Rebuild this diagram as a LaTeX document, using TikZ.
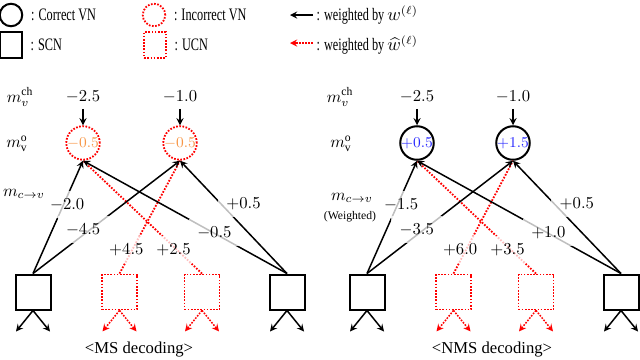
\documentclass[tikz,border=0pt]{standalone}
\usepackage{fontspec}
\setmainfont{Liberation Serif}
\newfontfamily\keyfont{Liberation Serif}[FakeStretch=0.7]
\usetikzlibrary{shapes,arrows,positioning}
\usepackage{amsmath,amssymb}
\definecolor{vnorange}{RGB}{247,150,70}
\definecolor{vnblue}{RGB}{40,40,255}

\begin{document}
\begin{tikzpicture}[x=0.6pt, y=-0.6pt,
  vn/.style={circle, minimum size=20pt, inner sep=0pt, font=\fontsize{9.5}{10}\selectfont},
  correct/.style={draw, line width=1.2pt},
  incorrect/.style={draw=red, line width=1.1pt, dash pattern=on 1pt off 0.9pt},
  scn/.style={rectangle, draw, line width=1.2pt, minimum size=21pt, inner sep=0pt},
  ucn/.style={rectangle, draw=red, line width=1.1pt, dash pattern=on 1pt off 0.9pt, minimum size=21pt, inner sep=0pt},
  arrow/.style={line width=0.9pt,->,>=stealth},
  redline/.style={red, line width=1.1pt, dash pattern=on 1pt off 0.9pt},
  redarrow/.style={red, line width=0.9pt, dash pattern=on 1pt off 0.8pt,->,>=stealth},
  elabel/.style={fill=white, fill opacity=0.75, text opacity=1, text=black, inner xsep=5pt, inner ysep=4.5pt},
  keytext/.style={font=\keyfont\fontsize{10.5}{12}\selectfont, inner sep=2pt}]

  \useasboundingbox (0,0) rectangle (640,359);

  % legend
  \node[circle, correct, minimum size=13.5pt, inner sep=0pt] (keyvn) at (11,15) {};
  \node[keytext, right=2.5pt of keyvn] (keyvntext) {: Correct VN};
  \node[rectangle, correct, minimum width=13pt, minimum height=15.5pt] (keyscn) at (11,45) {};
  \node[keytext, right=2.5pt of keyscn] (keyscntext) {: SCN};
  \node[circle, incorrect, minimum size=13.5pt, inner sep=0pt] (keyivn) at (154,15) {};
  \node[keytext, right=2.5pt of keyivn] (keyivntext) {: Incorrect VN};
  \node[rectangle, incorrect, minimum width=13pt, minimum height=15.5pt] (keyucn) at (155,45) {};
  \node[keytext, right=2.5pt of keyucn] (keyucntext) {: UCN};
  \node[keytext, anchor=west] (keyw) at (313,15) {: weighted by $w^{(\ell)}$};
  \node[keytext, anchor=west] (keywhat) at (313,45) {: weighted by $\widehat{w}^{(\ell)}$};
  \coordinate (keywend) at (290,15);
  \coordinate (keywhatend) at (290,43);
  \draw[arrow] (keyw.west) -- (keywend);
  \draw[redarrow] (keywhat.west) ++(0,-2) -- (keywhatend);

  % MS decoding
  \node (ch1L) at (83,97) {$-2.5$};
  \node (ch2L) at (180,97) {$-1.0$};
  \node[vn, incorrect] (vn1L) at (83,143) {\textcolor{vnorange}{$-0.5$}};
  \node[vn, incorrect] (vn2L) at (180,143) {\textcolor{vnorange}{$-0.5$}};
  \draw[arrow] (ch1L) -- (vn1L);
  \draw[arrow] (ch2L) -- (vn2L);

  \node[scn] (scn1L) at (33,292) {};
  \node[ucn] (ucn1L) at (119.5,292) {};
  \node[ucn] (ucn2L) at (202,292) {};
  \node[scn] (scn2L) at (287,292) {};

  \draw[redline] (ucn1L.north) -- node[elabel, pos=0.21, xshift=-3.5pt] {$+4.5$} (vn2L.south);
  \draw[redline] (ucn2L.north) -- node[elabel, pos=0.21, xshift=-2.1pt] {$+2.5$} (vn1L.south);
  \draw[arrow] (scn1L.north) -- node[elabel, pos=0.61, xshift=2.2pt] {$-2.0$} (vn1L.south);
  \draw[arrow] (scn1L.north) -- node[elabel, pos=0.39, xshift=-4.3pt] {$-4.5$} (vn2L.south);
  \draw[arrow] (scn2L.north) -- node[elabel, pos=0.36, xshift=0.5pt] {$-0.5$} (vn1L.south);
  \draw[arrow] (scn2L.north) -- node[elabel, pos=0.62, xshift=13.7pt] {$+0.5$} (vn2L.south);

  \node (rowchL) at (20,97) {$m_v^{\mathrm{ch}}$};
  \node (rowoL) at (17,144) {$m_{\mathrm{v}}^{\mathrm{o}}$};
  \node (rowcvL) at (24,194) {$m_{c\to v}$};

  \node (titleL) at (139,350) {<MS decoding>};

  % NMS decoding
  \node (ch1R) at (417,97) {$-2.5$};
  \node (ch2R) at (513,97) {$-1.0$};
  \node[vn, correct] (vn1R) at (417,143) {\textcolor{vnblue}{$+0.5$}};
  \node[vn, correct] (vn2R) at (513,143) {\textcolor{vnblue}{$+1.5$}};
  \draw[arrow] (ch1R) -- (vn1R);
  \draw[arrow] (ch2R) -- (vn2R);

  \node[scn] (scn1R) at (367,292) {};
  \node[ucn] (ucn1R) at (453.5,292) {};
  \node[ucn] (ucn2R) at (536,292) {};
  \node[scn] (scn2R) at (621,292) {};

  \draw[redline] (ucn1R.north) -- node[elabel, pos=0.21, xshift=-3.5pt] {$+6.0$} (vn2R.south);
  \draw[redline] (ucn2R.north) -- node[elabel, pos=0.21, xshift=-2.1pt] {$+3.5$} (vn1R.south);
  \draw[arrow] (scn1R.north) -- node[elabel, pos=0.61, xshift=2.2pt] {$-1.5$} (vn1R.south);
  \draw[arrow] (scn1R.north) -- node[elabel, pos=0.39, xshift=-4.3pt] {$-3.5$} (vn2R.south);
  \draw[arrow] (scn2R.north) -- node[elabel, pos=0.36, xshift=0.5pt] {$+1.0$} (vn1R.south);
  \draw[arrow] (scn2R.north) -- node[elabel, pos=0.62, xshift=13.7pt] {$+0.5$} (vn2R.south);

  \node (rowchR) at (340,97) {$m_v^{\mathrm{ch}}$};
  \node (rowoR) at (341,144) {$m_{\mathrm{v}}^{\mathrm{o}}$};
  \node (rowcvR) at (352,198) {$m_{c\to v}$};
  \node[font=\fontsize{7}{8}\selectfont, inner sep=1pt] (rowwR) at (350,217) {(Weighted)};

  \node (titleR) at (492,350) {<NMS decoding>};

  % outgoing messages below the check nodes
  \foreach \b in {scn1L,scn2L,scn1R,scn2R}{
    \draw[arrow] (\b.south) -- ++(-17,21) coordinate (\b-outa);
    \draw[arrow] (\b.south) -- ++(17,21) coordinate (\b-outb);
  }
  \foreach \b in {ucn1L,ucn2L,ucn1R,ucn2R}{
    \draw[redarrow] (\b.south) -- ++(-17,21) coordinate (\b-outa);
    \draw[redarrow] (\b.south) -- ++(17,21) coordinate (\b-outb);
  }

\end{tikzpicture}
\end{document}
